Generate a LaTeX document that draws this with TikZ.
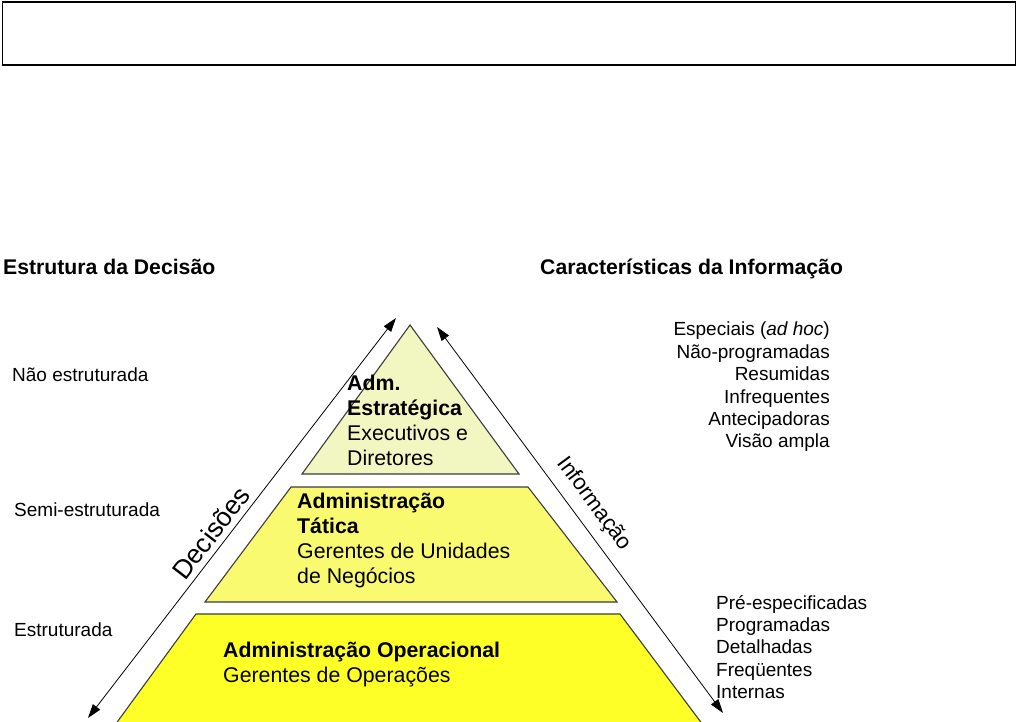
\documentclass[tikz,border=0pt]{standalone}
\usepackage{fontspec}
\setmainfont{Liberation Sans}
\usetikzlibrary{positioning,calc}
\usetikzlibrary{arrows.meta}
\definecolor{TierTop}{RGB}{242,246,192}
\definecolor{TierMid}{RGB}{250,250,112}
\definecolor{TierLow}{RGB}{255,255,40}
\definecolor{TierLine}{RGB}{60,60,60}
\tikzset{
  tier/.style={draw=TierLine,line width=1.1pt,line join=miter},
  dblarrow/.style={draw=black,line width=0.8pt,{Triangle[length=14pt,width=9pt]}-{Triangle[length=14pt,width=9pt]}},
  hdr/.style={inner sep=0pt,anchor=base west,font=\fontsize{21.2}{25}\selectfont\bfseries},
  side/.style={inner sep=0pt,anchor=base west,font=\fontsize{19}{22}\selectfont},
}
\tikzset{lst/.style={inner sep=0pt,font=\fontsize{19}{22.4}\selectfont},
  tiertxt/.style={inner sep=0pt,anchor=north west,align=left,font=\fontsize{21.3}{25}\selectfont}}

\begin{document}
\begin{tikzpicture}[x=1pt,y=-1pt]
\useasboundingbox (0,0) rectangle (1018,722);
% empty frame on top
\node[draw,line width=1.2pt,minimum width=1013pt,minimum height=63pt,inner sep=0pt,anchor=north west] (frame) at (2,1.5) {};
% pyramid
\coordinate (apex) at (410,325);
\coordinate (t1) at (302,474);
\coordinate (t2) at (519,474);
\coordinate (m1) at (291,487);
\coordinate (m2) at (528,487);
\coordinate (m3) at (617,602);
\coordinate (m4) at (205,602);
\coordinate (b1) at (196,614);
\coordinate (b2) at (620,614);
\coordinate (b3) at (703,725);
\coordinate (b4) at (115,725);
\draw[tier,fill=TierTop] (apex)--(t2)--(t1)--cycle;
\draw[tier,fill=TierMid] (m1)--(m2)--(m3)--(m4)--cycle;
\draw[tier,fill=TierLow] (b1)--(b2)--(b3)--(b4)--cycle;
% arrows
\coordinate (decLo) at (88,718);
\coordinate (decHi) at (396,318);
\coordinate (infHi) at (437,327);
\coordinate (infLo) at (723,713);
\draw[dblarrow] (decLo)--(decHi);
\draw[dblarrow] (infHi)--(infLo);
\node[inner sep=0pt,rotate=52.4,font=\fontsize{26.5}{30}\selectfont] (dec) at (211,533) {Decisões};
\node[inner sep=0pt,rotate=-53.5,font=\fontsize{22}{26}\selectfont] (inf) at (594,504) {Informação};
% headers
\node[hdr] (hdrL) at (3,275) {Estrutura da Decisão};
\node[hdr] (hdrR) at (540,275) {Características da Informação};
\node[side] (nao) at (12,381) {Não estruturada};
\node[side] (semi) at (14,516) {Semi-estruturada};
\node[side] (estr) at (14,636) {Estruturada};
% lists
\node[lst,anchor=north east,align=right] (infoTop) at (830,322) {Especiais (\textit{ad hoc})\\Não-programadas\\Resumidas\\Infrequentes\\Antecipadoras\\Visão ampla};
\node[lst,anchor=north west,align=left] (infoLow) at (716,595) {Pré-especificadas\\Programadas\\Detalhadas\\Freqüentes\\Internas};
% tier texts
\node[tiertxt] (txtTop) at (347,375) {\textbf{Adm.}\\\textbf{Estratégica}\\Executivos e\\Diretores};
\node[tiertxt] (txtMid) at (297,493) {\textbf{Administração}\\\textbf{Tática}\\Gerentes de Unidades\\de Negócios};
\node[tiertxt] (txtLow) at (223,642) {\textbf{Administração Operacional}\\Gerentes de Operações};
\end{tikzpicture}
\end{document}
